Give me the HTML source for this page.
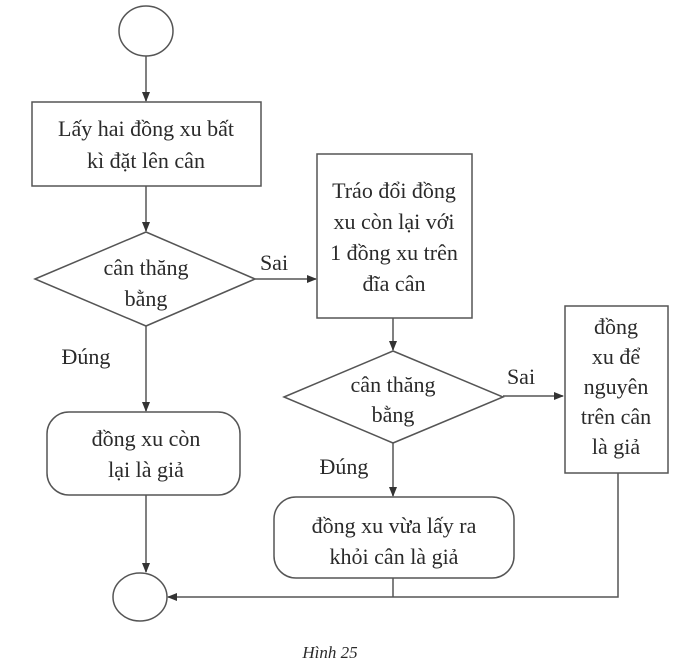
<!DOCTYPE html>
<html><head><meta charset="utf-8"><style>
html,body{margin:0;padding:0;background:#fff}
svg text{font-family:"Liberation Serif",serif;font-size:22px;fill:#2a2a2a;text-anchor:middle}
</style></head><body>
<svg width="691" height="666" viewBox="0 0 691 666" xmlns="http://www.w3.org/2000/svg">
<defs><marker id="a" markerWidth="10" markerHeight="10" refX="9" refY="5" orient="auto" markerUnits="userSpaceOnUse"><path d="M0,1 L10,5 L0,9 z" fill="#333"/></marker></defs>
<g fill="none" stroke="#555" stroke-width="1.5">
<ellipse cx="146" cy="31" rx="27" ry="25"/>
<line x1="146" y1="56" x2="146" y2="101" marker-end="url(#a)"/>
<rect x="32" y="102" width="229" height="84"/>
<line x1="146" y1="186" x2="146" y2="231" marker-end="url(#a)"/>
<polygon points="35,279 146,232 255,279 146,326"/>
<line x1="255" y1="279" x2="316" y2="279" marker-end="url(#a)"/>
<rect x="317" y="154" width="155" height="164"/>
<line x1="146" y1="326" x2="146" y2="411" marker-end="url(#a)"/>
<rect x="47" y="412" width="193" height="83" rx="22"/>
<line x1="146" y1="495" x2="146" y2="572" marker-end="url(#a)"/>
<ellipse cx="140" cy="597" rx="27" ry="24"/>
<line x1="393" y1="318" x2="393" y2="350" marker-end="url(#a)"/>
<polygon points="284,397 393,351 503,397 393,443"/>
<line x1="503" y1="396" x2="563" y2="396" marker-end="url(#a)"/>
<rect x="565" y="306" width="103" height="167"/>
<line x1="393" y1="443" x2="393" y2="496" marker-end="url(#a)"/>
<rect x="274" y="497" width="240" height="81" rx="22"/>
<line x1="393" y1="578" x2="393" y2="597"/>
<polyline points="618,473 618,597 168,597" marker-end="url(#a)"/>
</g>
<text x="146" y="136">Lấy hai đồng xu bất</text>
<text x="146" y="168">kì đặt lên cân</text>
<text x="146" y="275">cân thăng</text>
<text x="146" y="306">bằng</text>
<text x="274" y="270">Sai</text>
<text x="394" y="198">Tráo đổi đồng</text>
<text x="394" y="229">xu còn lại với</text>
<text x="394" y="260">1 đồng xu trên</text>
<text x="394" y="291">đĩa cân</text>
<text x="86" y="364">Đúng</text>
<text x="146" y="446">đồng xu còn</text>
<text x="146" y="477">lại là giả</text>
<text x="393" y="392">cân thăng</text>
<text x="393" y="422">bằng</text>
<text x="521" y="384">Sai</text>
<text x="616" y="334">đồng</text>
<text x="616" y="364">xu để</text>
<text x="616" y="394">nguyên</text>
<text x="616" y="424">trên cân</text>
<text x="616" y="454">là giả</text>
<text x="344" y="474">Đúng</text>
<text x="394" y="533">đồng xu vừa lấy ra</text>
<text x="394" y="564">khỏi cân là giả</text>
<text x="330" y="658" style="font-style:italic;font-size:17px">Hình 25</text>
</svg>
</body></html>
